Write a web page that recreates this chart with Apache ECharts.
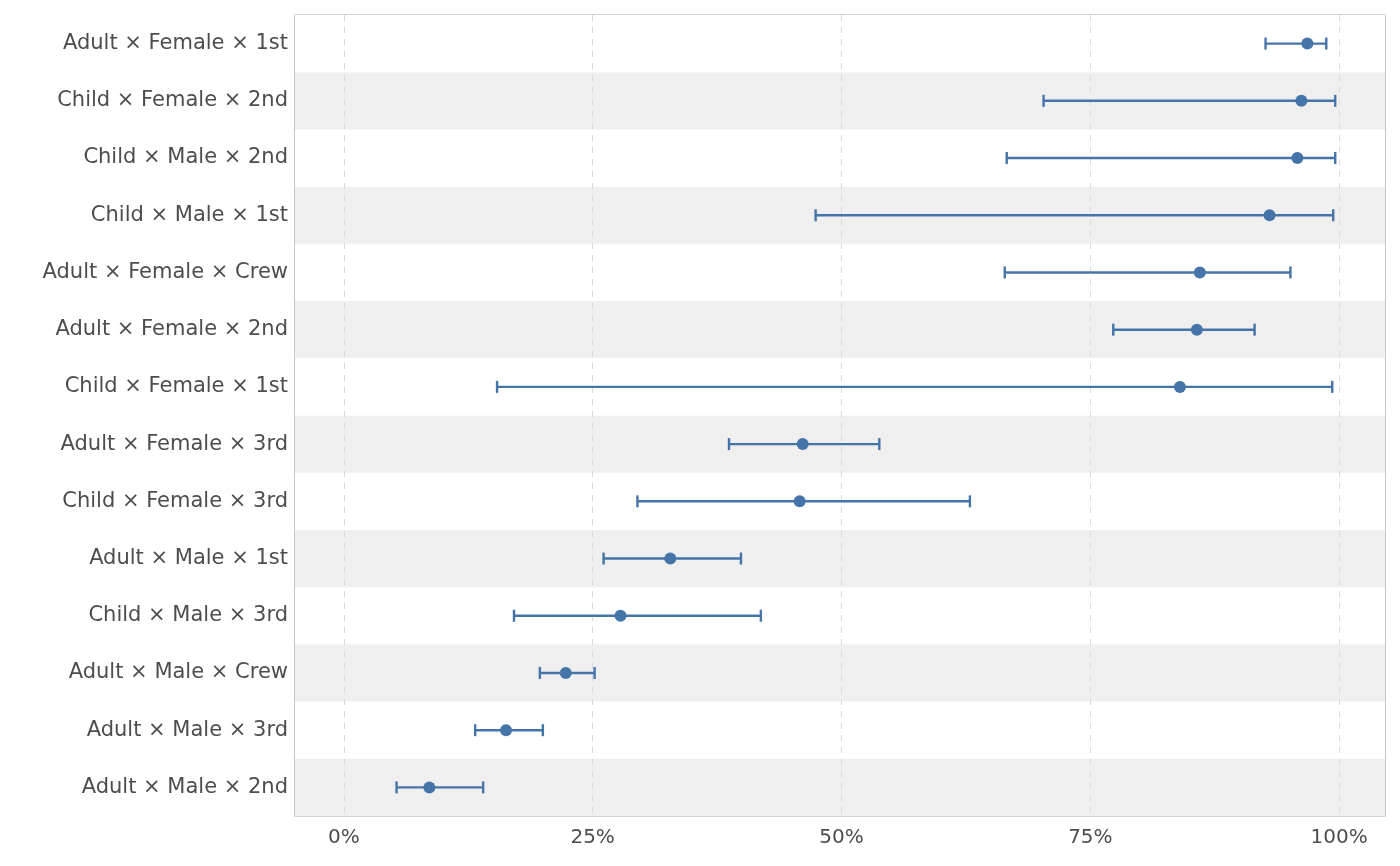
<!DOCTYPE html>
<html><head><meta charset="utf-8">
<script src="https://cdn.jsdelivr.net/npm/echarts@6/dist/echarts.min.js"></script>
<style>html,body{margin:0;background:#fff}#c{width:1400px;height:866px}</style>
</head><body><div id="c"></div>
<script>
// bottom to top
var groups = ['Adult × Male × 2nd','Adult × Male × 3rd','Adult × Male × Crew','Child × Male × 3rd',
  'Adult × Male × 1st','Child × Female × 3rd','Adult × Female × 3rd','Child × Female × 1st',
  'Adult × Female × 2nd','Adult × Female × Crew','Child × Male × 1st','Child × Male × 2nd',
  'Child × Female × 2nd','Adult × Female × 1st'];
var estimate = [8.6,16.3,22.3,27.8,32.8,45.8,46.1,84.0,85.7,86.0,93.0,95.8,96.2,96.8];
var lower    = [5.3,13.2,19.7,17.1,26.1,29.5,38.7,15.4,77.3,66.4,47.4,66.6,70.3,92.6];
var upper    = [14.0,20.0,25.2,41.9,39.9,62.9,53.8,99.3,91.5,95.1,99.4,99.6,99.6,98.7];
var ticks = [0,25,50,75,100];

var blue = '#4574a8';
var chart = echarts.init(document.getElementById('c'));
chart.setOption({
  animation:false,
  grid:{left:295,right:15,top:15,bottom:50,show:true,borderColor:'#a6a6a6',borderWidth:1.2},
  xAxis:{type:'value',min:-4.9,max:104.6,
    axisLine:{show:false},
    axisTick:{show:false,customValues:ticks},
    axisLabel:{customValues:ticks,formatter:'{value}%',color:'#4d4d4d',fontSize:20,letterSpacing:1,fontFamily:'DejaVu Sans',margin:12},
    splitLine:{show:true,lineStyle:{color:'#d9d9d9',type:[6,6],width:1}}},
  yAxis:{type:'category',data:groups,
    axisLine:{show:false},axisTick:{show:false},
    axisLabel:{color:'#4d4d4d',fontSize:21,letterSpacing:1.2,fontFamily:'DejaVu Sans',margin:7},
    splitArea:{show:true,areaStyle:{color:['#efefef','#ffffff']}}},
  series:[{
    type:'custom',
    data:groups.map(function(g,i){return [i,lower[i],upper[i]];}),
    encode:{y:0,x:[1,2]},
    renderItem:function(params,api){
      var lo=api.coord([api.value(1),api.value(0)]);
      var hi=api.coord([api.value(2),api.value(0)]);
      var h=6, st={stroke:blue,lineWidth:2.4};
      return {type:'group',children:[
        {type:'line',shape:{x1:lo[0],y1:lo[1],x2:hi[0],y2:hi[1]},style:st},
        {type:'line',shape:{x1:lo[0],y1:lo[1]-h,x2:lo[0],y2:lo[1]+h},style:st},
        {type:'line',shape:{x1:hi[0],y1:hi[1]-h,x2:hi[0],y2:hi[1]+h},style:st}
      ]};
    }
  },{
    type:'scatter',symbolSize:12,itemStyle:{color:blue,opacity:1},
    data:estimate.map(function(v,i){return [v,i];}),z:3
  }]
});
</script></body></html>
